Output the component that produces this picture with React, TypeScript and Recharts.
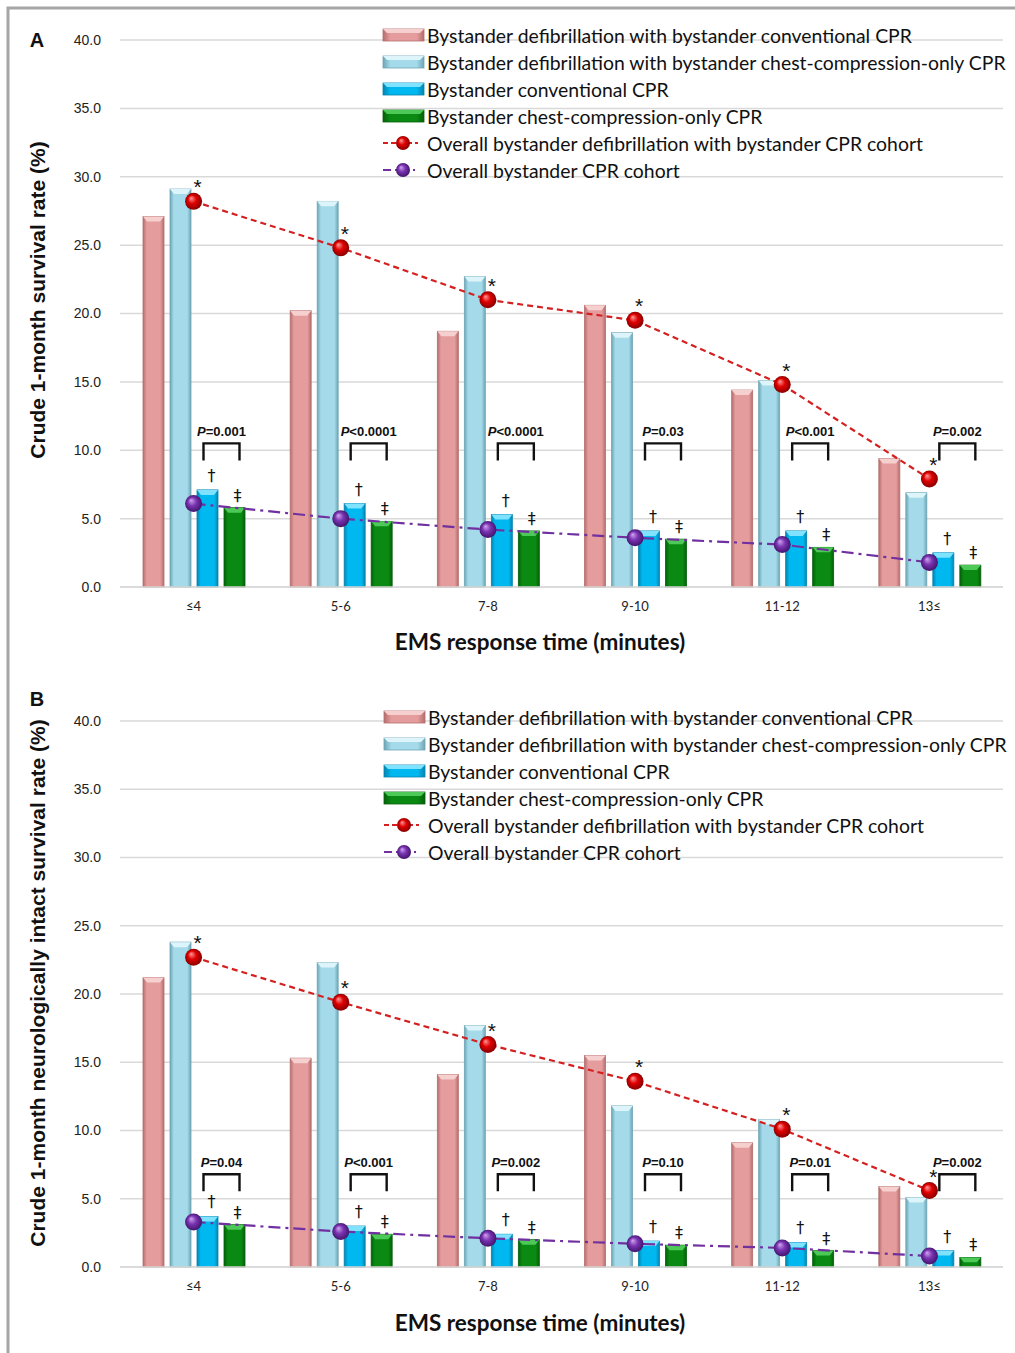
import React from 'react';
import { ComposedChart, Bar, Line, XAxis, YAxis, CartesianGrid, LabelList } from 'recharts';

const categories = ['≤4', '5-6', '7-8', '9-10', '11-12', '13≤'];

// Panel A: crude 1-month survival (%)
const survDefibConv = [27.1, 20.2, 18.7, 20.6, 14.4, 9.4];
const survDefibCco = [29.1, 28.2, 22.7, 18.6, 15.1, 6.9];
const survConv = [7.1, 6.1, 5.3, 4.1, 4.1, 2.5];
const survCco = [5.8, 4.8, 4.1, 3.5, 2.9, 1.6];
const survDefibOverall = [28.2, 24.8, 21.0, 19.5, 14.8, 7.9];
const survCprOverall = [6.1, 5.0, 4.2, 3.6, 3.1, 1.8];
const survPValues = ['=0.001', '<0.0001', '<0.0001', '=0.03', '<0.001', '=0.002'];

// Panel B: crude 1-month neurologically intact survival (%)
const neuroDefibConv = [21.2, 15.3, 14.1, 15.5, 9.1, 5.9];
const neuroDefibCco = [23.8, 22.3, 17.7, 11.8, 10.8, 5.1];
const neuroConv = [3.7, 3.0, 2.4, 1.9, 1.8, 1.2];
const neuroCco = [3.1, 2.4, 2.0, 1.6, 1.2, 0.7];
const neuroDefibOverall = [22.7, 19.4, 16.3, 13.6, 10.1, 5.6];
const neuroCprOverall = [3.3, 2.6, 2.1, 1.7, 1.4, 0.8];
const neuroPValues = ['=0.04', '<0.001', '=0.002', '=0.10', '=0.01', '=0.002'];

const yTicks = [0, 5, 10, 15, 20, 25, 30, 35, 40];

const seriesNames = [
  'Bystander defibrillation with bystander conventional CPR',
  'Bystander defibrillation with bystander chest-compression-only CPR',
  'Bystander conventional CPR',
  'Bystander chest-compression-only CPR',
  'Overall bystander defibrillation with bystander CPR cohort',
  'Overall bystander CPR cohort',
];

const tones: Record<string, { base: string; light: string; dark: string }> = {
  pink: { base: '#E59C9C', light: '#F6CFCF', dark: '#B56E6E' },
  sky: { base: '#A4DAE9', light: '#DDF4FA', dark: '#6EA6B6' },
  blue: { base: '#00B8F0', light: '#7FE2FF', dark: '#0384B0' },
  green: { base: '#0A8A12', light: '#4CC956', dark: '#05600A' },
};

const BAR = 21;
const GAP = 6;

const buildRows = (a: number[], b: number[], c: number[], d: number[], e: number[], f: number[]) =>
  categories.map((cat, i) => ({ cat, defibConv: a[i], defibCco: b[i], conv: c[i], cco: d[i], defibAll: e[i], cprAll: f[i] }));

const Defs = ({ p }: { p: string }) => (
  <defs>
    {Object.entries(tones).map(([k, t]) => (
      <linearGradient key={k} id={`${p}-${k}`} x1="0" y1="0" x2="1" y2="0">
        <stop offset="0%" stopColor={t.dark} />
        <stop offset="18%" stopColor={t.base} />
        <stop offset="50%" stopColor={t.base} />
        <stop offset="82%" stopColor={t.base} />
        <stop offset="100%" stopColor={t.dark} />
      </linearGradient>
    ))}
    <radialGradient id={`${p}-redball`} cx="50%" cy="50%" r="55%" fx="35%" fy="30%">
      <stop offset="0%" stopColor="#FF9C9C" />
      <stop offset="45%" stopColor="#E00000" />
      <stop offset="100%" stopColor="#7A0000" />
    </radialGradient>
    <radialGradient id={`${p}-purpleball`} cx="50%" cy="50%" r="55%" fx="35%" fy="30%">
      <stop offset="0%" stopColor="#D2A6F0" />
      <stop offset="45%" stopColor="#7A34B2" />
      <stop offset="100%" stopColor="#3A1062" />
    </radialGradient>
  </defs>
);

const BevelBar = (props: any) => {
  const { x, y, width, height, prefix, tone } = props;
  if (!height || height <= 0) return null;
  const t = tones[tone];
  const b = Math.min(5, height / 2);
  return (
    <g>
      <rect x={x} y={y} width={width} height={height} fill={`url(#${prefix}-${tone})`} stroke={t.dark} strokeWidth={0.8} />
      <polygon points={`${x},${y} ${x + width},${y} ${x + width - 4},${y + b} ${x + 4},${y + b}`} fill={t.light} />
    </g>
  );
};

const Ball = (props: any) => {
  const { cx, cy, index, fill } = props;
  return <circle key={index} cx={cx} cy={cy} r={8.5} fill={fill} />;
};

type PanelProps = {
  prefix: string;
  height: number;
  top: number;
  bottom: number;
  rows: any[];
  pValues: string[];
  bracketLevel: number;
};

const Panel = ({ prefix, height, top, bottom, rows, pValues, bracketLevel }: PanelProps) => {
  const bracket = (p: any) => {
    const { x, y, width, height: h, value, index } = p;
    if (!value) return null;
    const zero = y + h;
    const px = h / value;
    const yTop = zero - bracketLevel * px;
    const left = x + width / 2 - 4;
    const right = x + width + GAP + width / 2 + 5;
    const mid = (left + right) / 2;
    const pv = pValues[index];
    return (
      <g key={`br-${index}`}>
        <path d={`M${left},${yTop + 17} V${yTop} H${right} V${yTop + 17}`} fill="none" stroke="#111" strokeWidth={2.4} />
        <text x={mid} y={yTop - 7} textAnchor="middle" fontFamily="Liberation Sans, Arial, sans-serif" fontWeight="bold" fontSize={13} fill="#111">
          <tspan fontStyle="italic">P</tspan>
          {pv}
        </text>
        <text x={x + width / 2 + 4} y={y - 9} textAnchor="middle" fontFamily="DejaVu Sans, sans-serif" fontSize={16} fill="#111">†</text>
      </g>
    );
  };
  const ddagger = (p: any) => {
    const { x, y, width, index } = p;
    return (
      <text key={`dd-${index}`} x={x + width / 2 + 3} y={y - 7} textAnchor="middle" fontFamily="DejaVu Sans, sans-serif" fontSize={16} fill="#111">‡</text>
    );
  };
  const star = (p: any) => {
    const { x, y, index } = p;
    return (
      <text key={`st-${index}`} x={x + 4} y={y - 7} textAnchor="middle" fontFamily="Liberation Sans, Arial, sans-serif" fontSize={21} fill="#111">*</text>
    );
  };

  return (
    <ComposedChart
      width={1015}
      height={height}
      data={rows}
      margin={{ top, right: 12, left: 0, bottom }}
      barSize={BAR}
      barGap={GAP}
    >
      <Defs p={prefix} />
      <CartesianGrid vertical={false} stroke="#D9D9D9" strokeWidth={1.5} />
      <XAxis
        dataKey="cat"
        axisLine={{ stroke: '#D9D9D9', strokeWidth: 1.5 }}
        tickLine={false}
        tickMargin={9}
        height={30}
        tick={{ fontFamily: 'Lato, sans-serif', fontSize: 13, fill: '#222' }}
      />
      <YAxis
        domain={[0, 40]}
        ticks={yTicks}
        width={120}
        axisLine={false}
        tickLine={false}
        tickMargin={13}
        tickFormatter={(v: number) => v.toFixed(1)}
        tick={{ fontFamily: 'Liberation Sans, Arial, sans-serif', fontSize: 14, fill: '#222' }}
      />
      <Bar dataKey="defibConv" isAnimationActive={false} shape={(p: any) => <BevelBar {...p} prefix={prefix} tone="pink" />} />
      <Bar dataKey="defibCco" isAnimationActive={false} shape={(p: any) => <BevelBar {...p} prefix={prefix} tone="sky" />} />
      <Bar dataKey="conv" isAnimationActive={false} shape={(p: any) => <BevelBar {...p} prefix={prefix} tone="blue" />}>
        <LabelList dataKey="conv" content={bracket} />
      </Bar>
      <Bar dataKey="cco" isAnimationActive={false} shape={(p: any) => <BevelBar {...p} prefix={prefix} tone="green" />}>
        <LabelList dataKey="cco" content={ddagger} />
      </Bar>
      <Line
        dataKey="defibAll"
        type="linear"
        stroke="#D42020"
        strokeWidth={2.2}
        strokeDasharray="6 4"
        isAnimationActive={false}
        dot={(p: any) => <Ball {...p} key={p.index} fill={`url(#${prefix}-redball)`} />}
      >
        <LabelList dataKey="defibAll" content={star} />
      </Line>
      <Line
        dataKey="cprAll"
        type="linear"
        stroke="#7030A0"
        strokeWidth={2.2}
        strokeDasharray="12 5 3 5"
        isAnimationActive={false}
        dot={(p: any) => <Ball {...p} key={p.index} fill={`url(#${prefix}-purpleball)`} />}
      />
    </ComposedChart>
  );
};

const LegendBlock = ({ x, y }: { x: number; y: number }) => {
  const barTones = ['pink', 'sky', 'blue', 'green'];
  return (
    <g>
      {seriesNames.map((name, i) => {
        const cy = y + i * 27;
        let icon;
        if (i < 4) {
          const t = tones[barTones[i]];
          icon = (
            <g>
              <rect x={x} y={cy - 6} width={41} height={12} fill={`url(#lg-${barTones[i]})`} stroke={t.dark} strokeWidth={0.8} />
              <polygon points={`${x},${cy - 6} ${x + 41},${cy - 6} ${x + 37},${cy - 2} ${x + 4},${cy - 2}`} fill={t.light} />
            </g>
          );
        } else {
          const red = i === 4;
          icon = (
            <g>
              <line x1={x} y1={cy} x2={x + 35} y2={cy} stroke={red ? '#D42020' : '#7030A0'} strokeWidth={2} strokeDasharray={red ? '5 3' : '8 4 2 4'} />
              <circle cx={x + 20} cy={cy} r={7} fill={red ? 'url(#lg-redball)' : 'url(#lg-purpleball)'} />
            </g>
          );
        }
        return (
          <g key={name}>
            {icon}
            <text x={x + 44} y={cy} dominantBaseline="central" fontFamily="Lato, sans-serif" fontSize={19.4} fill="#111">
              {name}
            </text>
          </g>
        );
      })}
    </g>
  );
};

const App = () => {
  const rowsA = buildRows(survDefibConv, survDefibCco, survConv, survCco, survDefibOverall, survCprOverall);
  const rowsB = buildRows(neuroDefibConv, neuroDefibCco, neuroConv, neuroCco, neuroDefibOverall, neuroCprOverall);
  return (
    <div style={{ position: 'absolute', left: 0, top: 0, width: 1015, height: 1353, background: '#fff', overflow: 'hidden' }}>
      <div style={{ position: 'absolute', left: 0, top: 0 }}>
        <Panel prefix="pa" height={680} top={40} bottom={63} rows={rowsA} pValues={survPValues} bracketLevel={10.5} />
      </div>
      <div style={{ position: 'absolute', left: 0, top: 680 }}>
        <Panel prefix="pb" height={673} top={41} bottom={56} rows={rowsB} pValues={neuroPValues} bracketLevel={6.8} />
      </div>
      <svg width={1015} height={1353} style={{ position: 'absolute', left: 0, top: 0, pointerEvents: 'none' }}>
        <Defs p="lg" />
        <rect x={8} y={8} width={1030} height={1360} fill="none" stroke="#A6A6A6" strokeWidth={3} />
        <text x={37} y={40} textAnchor="middle" dominantBaseline="central" fontFamily="Liberation Sans, Arial, sans-serif" fontWeight="bold" fontSize={20} fill="#111">A</text>
        <text x={37} y={699} textAnchor="middle" dominantBaseline="central" fontFamily="Liberation Sans, Arial, sans-serif" fontWeight="bold" fontSize={20} fill="#111">B</text>
        <text transform="translate(37,300) rotate(-90)" textAnchor="middle" dominantBaseline="central" fontFamily="Liberation Sans, Arial, sans-serif" fontWeight="bold" fontSize={21} fill="#111">
          Crude 1-month survival rate (%)
        </text>
        <text transform="translate(37,983) rotate(-90)" textAnchor="middle" dominantBaseline="central" fontFamily="Liberation Sans, Arial, sans-serif" fontWeight="bold" fontSize={21} fill="#111">
          Crude 1-month neurologically intact survival rate (%)
        </text>
        <text x={540} y={641} textAnchor="middle" dominantBaseline="central" fontFamily="Lato, sans-serif" fontWeight="bold" fontSize={22.5} fill="#111">EMS response time (minutes)</text>
        <text x={540} y={1322} textAnchor="middle" dominantBaseline="central" fontFamily="Lato, sans-serif" fontWeight="bold" fontSize={22.5} fill="#111">EMS response time (minutes)</text>
        <LegendBlock x={383} y={35} />
        <LegendBlock x={384} y={717} />
      </svg>
    </div>
  );
};

export default App;
